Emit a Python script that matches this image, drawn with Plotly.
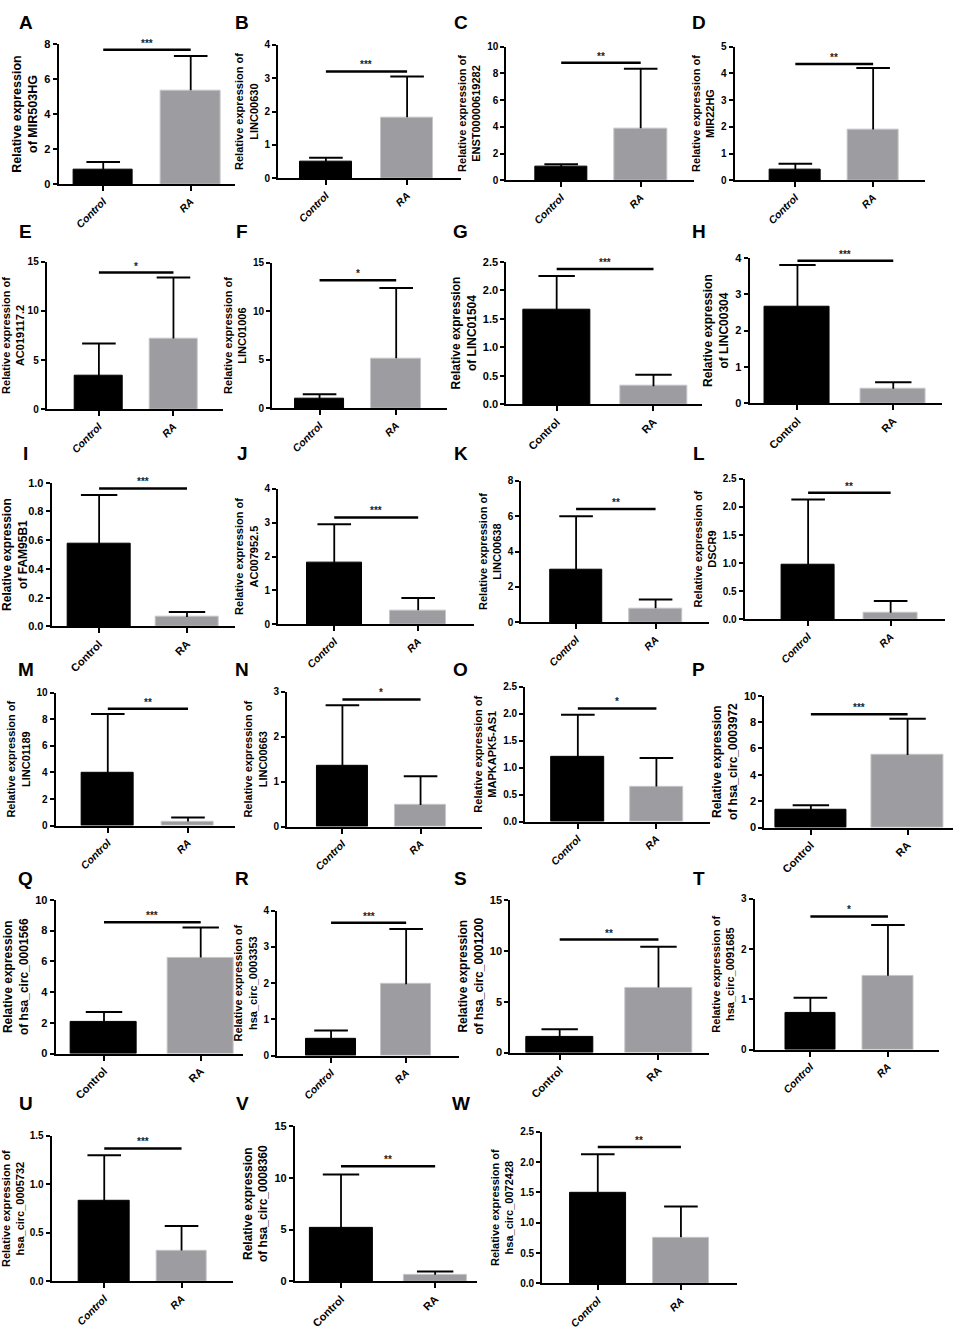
import plotly.graph_objects as go

# ---- data ----
panels = list("ABCDEFGHIJKLMNOPQRSTUVW")
genes = ["MIR503HG", "LINC00630", "ENST00000619282", "MIR22HG",
         "AC019117.2", "LINC01006", "LINC01504", "LINC00304",
         "FAM95B1", "AC007952.5", "LINC00638", "DSCR9",
         "LINC01189", "LINC00663", "MAPKAPK5-AS1", "hsa_circ_0003972",
         "hsa_circ_0001566", "hsa_circ_0003353", "hsa_circ_0001200", "hsa_circ_0091685",
         "hsa_circ_0005732", "hsa_circ_0008360", "hsa_circ_0072428"]
groups = ["Control", "RA"]
control_mean = [0.85, 0.5, 1.0, 0.4, 3.4, 1.0, 1.66, 2.65, 0.575, 1.82, 3.0, 0.97,
                4.0, 1.35, 1.2, 1.35, 2.05, 0.47, 1.55, 0.72, 0.83, 5.15, 1.5]
control_top = [1.27, 0.62, 1.2, 0.62, 6.7, 1.45, 2.25, 3.8, 0.915, 2.95, 6.0, 2.13,
               8.4, 2.7, 1.98, 1.7, 2.7, 0.69, 2.3, 1.03, 1.3, 10.3, 2.13]
ra_mean = [5.35, 1.83, 3.9, 1.9, 7.2, 5.15, 0.32, 0.4, 0.065, 0.42, 0.8, 0.12,
           0.3, 0.48, 0.65, 5.5, 6.25, 1.97, 6.4, 1.47, 0.32, 0.65, 0.76]
ra_top = [7.3, 3.05, 8.35, 4.2, 13.4, 12.4, 0.52, 0.58, 0.1, 0.78, 1.3, 0.33,
          0.6, 1.12, 1.18, 8.25, 8.2, 3.5, 10.4, 2.48, 0.57, 0.95, 1.27]
sig_level = [7.65, 3.2, 8.8, 4.35, 13.9, 13.2, 2.37, 3.92, 0.96, 3.15, 6.4, 2.25,
             8.8, 2.83, 2.1, 8.6, 8.55, 3.67, 11.1, 2.65, 1.37, 11.1, 2.25]
sig_stars = ["***", "***", "**", "**", "*", "*", "***", "***", "***", "***", "**", "**",
             "**", "*", "*", "***", "***", "***", "**", "*", "***", "**", "**"]
y_max = [8, 4, 10, 5, 15, 15, 2.5, 4, 1.0, 4, 8, 2.5,
         10, 3, 2.5, 10, 10, 4, 15, 3, 1.5, 15, 2.5]
y_step = [2, 1, 2, 1, 5, 5, 0.5, 1, 0.2, 1, 2, 0.5,
          2, 1, 0.5, 2, 2, 1, 5, 1, 0.5, 5, 0.5]

# ---- layout of the panels (pixels): axis left, right, top, baseline, x range, bar width ----
W, H = 960, 1339
boxes = [
    (52, 230, 38, 180, -0.51, 1.51, 0.68),
    (273, 457, 39, 174, -0.59, 1.66, 0.65),
    (503, 692, 41, 176, -0.69, 1.67, 0.66),
    (733, 925, 41, 176, -0.78, 1.67, 0.66),
    (40, 218, 258, 407, -0.70, 1.67, 0.65),
    (267, 443, 259, 406, -0.62, 1.66, 0.65),
    (503, 700, 258, 402, -0.52, 1.50, 0.69),
    (748, 942, 254, 401, -0.50, 1.51, 0.68),
    (45, 230, 481, 626, -0.54, 1.55, 0.72),
    (273, 470, 487, 624, -0.67, 1.66, 0.66),
    (518, 707, 479, 622, -0.69, 1.67, 0.66),
    (743, 945, 477, 619, -0.77, 1.66, 0.65),
    (49, 230, 693, 827, -0.65, 1.59, 0.65),
    (282, 478, 692, 828, -0.71, 1.78, 0.66),
    (522, 708, 687, 823, -0.67, 1.68, 0.68),
    (763, 953, 696, 829, -0.48, 1.47, 0.74),
    (49, 238, 902, 1057, -0.50, 1.44, 0.68),
    (272, 455, 913, 1059, -0.72, 1.70, 0.66),
    (507, 707, 902, 1056, -0.50, 1.51, 0.68),
    (753, 939, 901, 1053, -0.72, 1.66, 0.65),
    (45, 228, 1140, 1287, -0.68, 1.67, 0.65),
    (290, 473, 1130, 1287, -0.49, 1.44, 0.67),
    (539, 735, 1136, 1289, -0.67, 1.67, 0.67),
]
letter_cols = [19, 237, 457, 697]
letter_rows = [17, 228, 452, 670, 880, 1107]


def px(x):
    return x / W


def py(y):
    return 1 - y / H


big_panels = "GHIPQSV"      # plain Arial, larger text
wrap_of = "AGHIPQSV"        # "of" on the second title line
NARROW = "Liberation Sans Narrow, Arial Narrow, Liberation Sans, Arial"
NORMAL = "Liberation Sans, Arial, sans-serif"

fig = go.Figure()
for i, p in enumerate(panels):
    n = "" if i == 0 else str(i + 1)
    x0, x1, yt, yb, xlo, xhi, bw = boxes[i]
    big = p in big_panels
    fam = NORMAL if big else NARROW
    if p in wrap_of:
        ytitle = "Relative expression<br>of " + genes[i]
    else:
        ytitle = "Relative expression of<br>" + genes[i]
    if big:
        tfam, tsize = NORMAL, 12
    elif p == "A":
        tfam, tsize = NARROW, 12.5
    else:
        tfam, tsize = NORMAL, 11
    ksize = 11 if big else (11 if p == "A" else 10)
    xsize = 11 if big else 10.5
    cap = 26 if big else 24

    means = [control_mean[i], ra_mean[i]]
    tops = [control_top[i], ra_top[i]]

    fig.add_trace(go.Bar(
        x=[0, 1], y=means, width=bw,
        marker=dict(color=["#000000", "#9d9da1"],
                    line=dict(color=["#000000", "#c6c6c8"], width=1)),
        xaxis="x" + n, yaxis="y" + n, showlegend=False, hoverinfo="skip"))

    # upper error bars only (stem from bar top, cap at mean + SD)
    fig.add_trace(go.Scatter(
        x=[0, 0, None, 1, 1], y=[means[0], tops[0], None, means[1], tops[1]],
        mode="lines", line=dict(color="black", width=1.8),
        xaxis="x" + n, yaxis="y" + n, showlegend=False, hoverinfo="skip"))
    fig.add_trace(go.Scatter(
        x=[0, 1], y=tops, mode="markers",
        marker=dict(symbol="line-ew-open", size=cap, color="black",
                    line=dict(color="black", width=2)),
        xaxis="x" + n, yaxis="y" + n, showlegend=False, hoverinfo="skip"))

    fig.update_layout(**{
        "xaxis" + n: dict(
            domain=[px(x0), px(x1)], anchor="y" + n, range=[xlo, xhi],
            tickvals=[0, 1], ticktext=groups, tickangle=-45,
            showline=True, linecolor="black", linewidth=2,
            ticks="outside", ticklen=5, tickwidth=2, tickcolor="black",
            showgrid=False, zeroline=False,
            tickfont=dict(family=fam, size=xsize, color="black", weight="bold",
                          style="normal" if big else "italic")),
        "yaxis" + n: dict(
            domain=[py(yb), py(yt)], anchor="x" + n,
            range=[0, y_max[i]], tick0=0, dtick=y_step[i],
            tickformat=".1f" if y_max[i] % 1 or y_step[i] < 1 else "d",
            showline=True, linecolor="black", linewidth=2,
            ticks="outside", ticklen=4, tickwidth=1.5, tickcolor="black",
            showgrid=False, zeroline=False,
            tickfont=dict(family=fam, size=ksize, color="black", weight="bold"),
            title=dict(text=ytitle, standoff=4,
                       font=dict(family=tfam, size=tsize, color="black", weight="bold"))),
    })

    # significance bracket
    fig.add_shape(type="line", xref="x" + n, yref="y" + n, x0=0, x1=1,
                  y0=sig_level[i], y1=sig_level[i], line=dict(color="black", width=2.5))
    fig.add_annotation(xref="x" + n, yref="y" + n, x=0.5, y=sig_level[i],
                       text=sig_stars[i], showarrow=False, yanchor="bottom", yshift=-1,
                       font=dict(family=NORMAL, size=10, color="#222222", weight="bold"))

    # panel letter
    fig.add_annotation(xref="paper", yref="paper",
                       x=px(letter_cols[i % 4]), y=py(letter_rows[i // 4]),
                       text=p, showarrow=False, xanchor="center", yanchor="middle",
                       font=dict(family=NORMAL, size=19, color="black", weight="bold"))

fig.update_layout(width=W, height=H, margin=dict(l=0, r=0, t=0, b=0),
                  paper_bgcolor="white", plot_bgcolor="white", bargap=0)

# drop the browser's default body margin so the figure fills the window exactly
fig.write_html("out.html", config={"displayModeBar": False},
               post_script="document.body.style.margin = '0';")
